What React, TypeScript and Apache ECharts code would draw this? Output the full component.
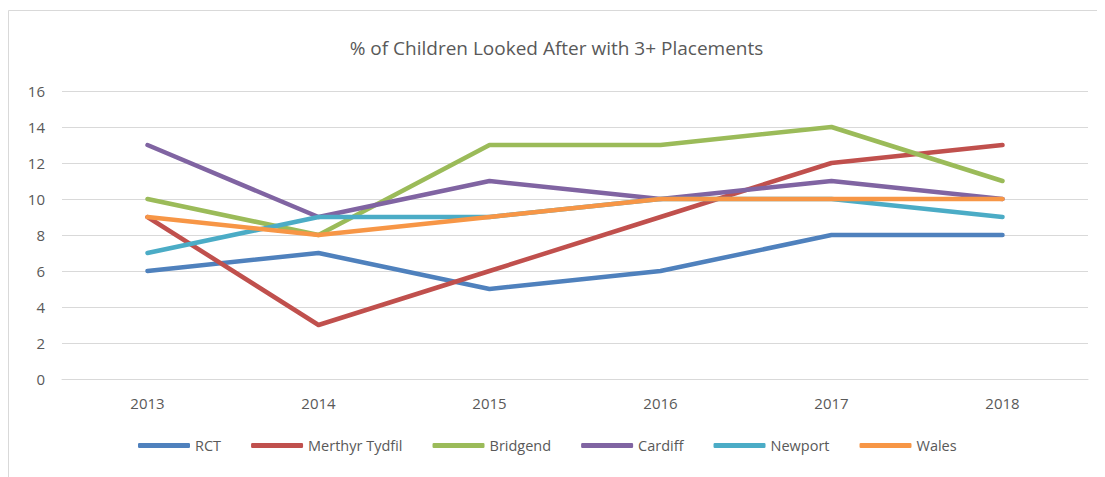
import React, { useEffect, useRef } from "react";
import * as echarts from "echarts";

const years = ["2013", "2014", "2015", "2016", "2017", "2018"];
const rct = [6, 7, 5, 6, 8, 8];
const merthyr = [9, 3, 6, 9, 12, 13];
const bridgend = [10, 8, 13, 13, 14, 11];
const cardiff = [13, 9, 11, 10, 11, 10];
const newport = [7, 9, 9, 10, 10, 9];
const wales = [9, 8, 9, 10, 10, 10];

const seriesNames = ["RCT", "Merthyr Tydfil", "Bridgend", "Cardiff", "Newport", "Wales"];
const seriesData = [rct, merthyr, bridgend, cardiff, newport, wales];
const colors = ["#4f81bd", "#c0504d", "#9bbb59", "#8064a2", "#4bacc6", "#f79646"];

const FONT = "'Open Sans', sans-serif";

export default function App() {
  const ref = useRef<HTMLDivElement>(null);
  useEffect(() => {
    if (!ref.current) return;
    const chart = echarts.init(ref.current, undefined, { renderer: "svg" });
    chart.setOption({
      animation: false,
      color: colors,
      graphic: [
        {
          type: "rect",
          shape: { x: 0.5, y: 2.5, width: 1200, height: 600 },
          style: { fill: "none", stroke: "#d9d9d9", lineWidth: 1 },
          silent: true,
        },
      ],
      title: {
        text: "% of Children Looked After with 3+ Placements",
        left: "center",
        top: 25,
        textStyle: { fontFamily: FONT, fontSize: 19, fontWeight: "normal", color: "#595959" },
      },
      legend: {
        data: seriesNames,
        bottom: 19,
        left: 125,
        icon: "roundRect",
        itemWidth: 52,
        itemHeight: 5,
        itemGap: 30,
        textStyle: { fontFamily: FONT, fontSize: 14.5, color: "#595959" },
      },
      grid: { left: 54, right: 17, top: 83, bottom: 98, containLabel: false },
      xAxis: {
        type: "category",
        data: years,
        boundaryGap: true,
        axisLine: { show: true, lineStyle: { color: "#d9d9d9", width: 1 } },
        axisTick: { show: false },
        axisLabel: { fontFamily: FONT, fontSize: 15, color: "#595959", margin: 16 },
      },
      yAxis: {
        type: "value",
        min: 0,
        max: 16,
        interval: 2,
        axisLine: { show: false },
        axisTick: { show: false },
        splitLine: { lineStyle: { color: "#d9d9d9", width: 1 } },
        axisLabel: { fontFamily: FONT, fontSize: 15, color: "#595959", margin: 17 },
      },
      series: seriesNames.map((name, i) => ({
        name,
        type: "line",
        data: seriesData[i],
        symbol: "none",
        lineStyle: { width: 4.5, color: colors[i], cap: "round", join: "round" },
        itemStyle: { color: colors[i] },
      })),
    });
    return () => chart.dispose();
  }, []);
  return <div ref={ref} style={{ width: 1097, height: 469 }} />;
}
